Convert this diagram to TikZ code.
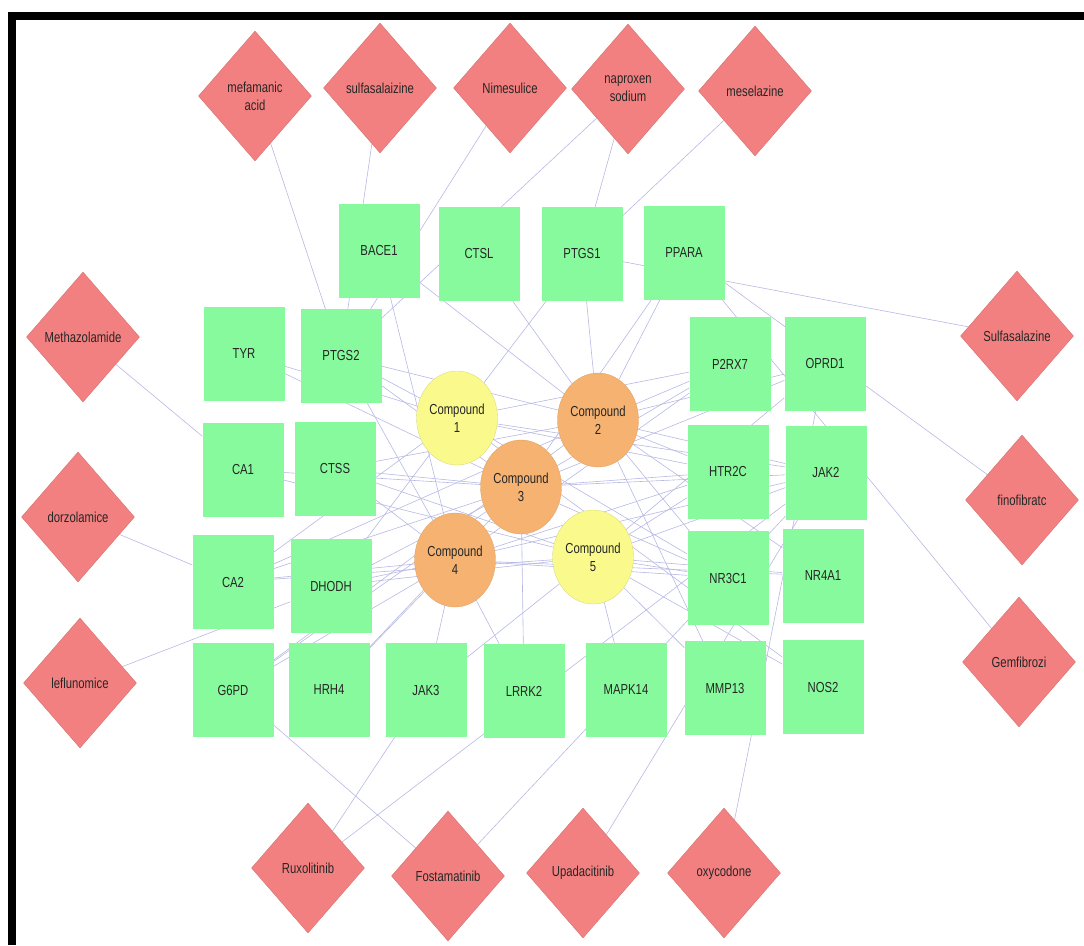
\documentclass[tikz,border=0pt]{standalone}
\usepackage{fontspec}
\setmainfont{Liberation Sans}[FakeStretch=0.78]
\usetikzlibrary{shapes.geometric, backgrounds}

\definecolor{targetgreen}{RGB}{134,250,156}
\definecolor{drugred}{RGB}{243,128,128}
\definecolor{cpdyellow}{RGB}{250,250,140}
\definecolor{cpdorange}{RGB}{245,178,112}
\definecolor{edgeblue}{RGB}{182,184,228}

\begin{document}
\begin{tikzpicture}[x=1pt, y=-1pt,
  lbl/.style={font=\fontsize{14.5}{18}\selectfont, text=black!85},
  target/.style={lbl, rectangle, fill=targetgreen, minimum width=81pt,
    minimum height=94pt, inner sep=0pt},
  drug/.style={lbl, diamond, aspect=0.87, fill=drugred, draw=drugred!88!black,
    line width=0.4pt, minimum width=113pt, minimum height=130pt,
    inner sep=0pt, align=center},
  cpd/.style={lbl, ellipse, minimum width=81pt, minimum height=94pt,
    inner sep=0pt, align=center, line width=0.3pt},
  link/.style={edgeblue, line width=0.6pt}]
  \useasboundingbox (0,0) rectangle (1084,945);

  % Frame
  \fill[black] (8,12) rectangle (1084,20);
  \fill[black] (8,12) rectangle (16,945);

  % Targets (green boxes)
  \foreach \name/\x/\y in {
    BACE1/379/251, CTSL/479/254, PTGS1/582/254, PPARA/684/253,
    TYR/244/354, PTGS2/341/356, CA1/243/470, CTSS/335/469,
    CA2/233/582, DHODH/331/586,
    G6PD/233/690, HRH4/329/690, JAK3/426/690, LRRK2/524/691,
    MAPK14/626/690, MMP13/725/688, NOS2/823/687,
    P2RX7/730/364, OPRD1/825/364, HTR2C/728/472, JAK2/826/473,
    NR3C1/728/578, NR4A1/823/576}{
    \node[target] (\name) at (\x,\y) {\name};
  }

  % Compounds
  \node[cpd, fill=cpdyellow, draw=cpdyellow!85!black] (c1) at (457,418) {Compound\\1};
  \node[cpd, fill=cpdorange, draw=cpdorange!90!black] (c2) at (598,420) {Compound\\2};
  \node[cpd, fill=cpdorange, draw=cpdorange!90!black] (c3) at (521,487) {Compound\\3};
  \node[cpd, fill=cpdorange, draw=cpdorange!90!black] (c4) at (455,560) {Compound\\4};
  \node[cpd, fill=cpdyellow, draw=cpdyellow!85!black] (c5) at (593,557) {Compound\\5};

  % Drugs (diamonds)
  \foreach \name/\x/\y/\txt in {
    mefam/255/96/{mefamanic\\acid}, sulfaT/380/88/sulfasalaizine,
    nimes/510/88/Nimesulice, naprox/628/89/{naproxen\\sodium},
    mesel/755/91/meselazine,
    methaz/83/337/Methazolamide, dorzo/78/517/dorzolamice,
    leflu/80/683/leflunomice,
    sulfaR/1017/336/Sulfasalazine, fenof/1022/500/finofibratc,
    gemfi/1019/662/Gemfibrozi,
    ruxol/308/868/Ruxolitinib, fosta/448/876/Fostamatinib,
    upada/583/873/Upadacitinib, oxyco/724/873/oxycodone}{
    \node[drug] (\name) at (\x,\y) {\txt};
  }

  % Interactions
  \begin{scope}[on background layer]
    \foreach \s/\t in {
      mefam/PTGS2, sulfaT/PTGS2, nimes/PTGS2, naprox/PTGS2, naprox/PTGS1,
      mesel/PTGS1, methaz/CA1, dorzo/CA2, leflu/DHODH, sulfaR/PTGS1,
      fenof/PPARA, gemfi/PPARA, ruxol/JAK3, ruxol/JAK2, fosta/G6PD,
      fosta/JAK2, upada/JAK2, oxyco/OPRD1,
      c1/TYR, c1/PTGS2, c1/PTGS1, c1/CA2, c1/DHODH, c1/HTR2C, c1/JAK2,
      c1/NR3C1, c1/P2RX7, c1/NOS2,
      c2/BACE1, c2/CTSL, c2/PTGS1, c2/PPARA, c2/PTGS2, c2/CTSS, c2/CA2,
      c2/G6PD, c2/P2RX7, c2/OPRD1, c2/HTR2C, c2/JAK2, c2/NR3C1, c2/NR4A1,
      c2/MMP13,
      c3/TYR, c3/PTGS2, c3/CA1, c3/CTSS, c3/CA2, c3/DHODH, c3/G6PD,
      c3/HRH4, c3/LRRK2, c3/PPARA, c3/P2RX7, c3/OPRD1, c3/HTR2C, c3/JAK2,
      c3/NR3C1,
      c4/BACE1, c4/PTGS2, c4/CTSS, c4/CA2, c4/DHODH, c4/G6PD, c4/HRH4,
      c4/JAK3, c4/LRRK2, c4/P2RX7, c4/HTR2C, c4/JAK2, c4/NR3C1, c4/NR4A1,
      c5/CA1, c5/CTSS, c5/CA2, c5/DHODH, c5/JAK3, c5/MAPK14, c5/MMP13,
      c5/NOS2, c5/NR3C1, c5/NR4A1, c5/HTR2C, c5/JAK2, c5/OPRD1}{
      \draw[link] (\s) -- (\t);
    }
  \end{scope}
\end{tikzpicture}
\end{document}
